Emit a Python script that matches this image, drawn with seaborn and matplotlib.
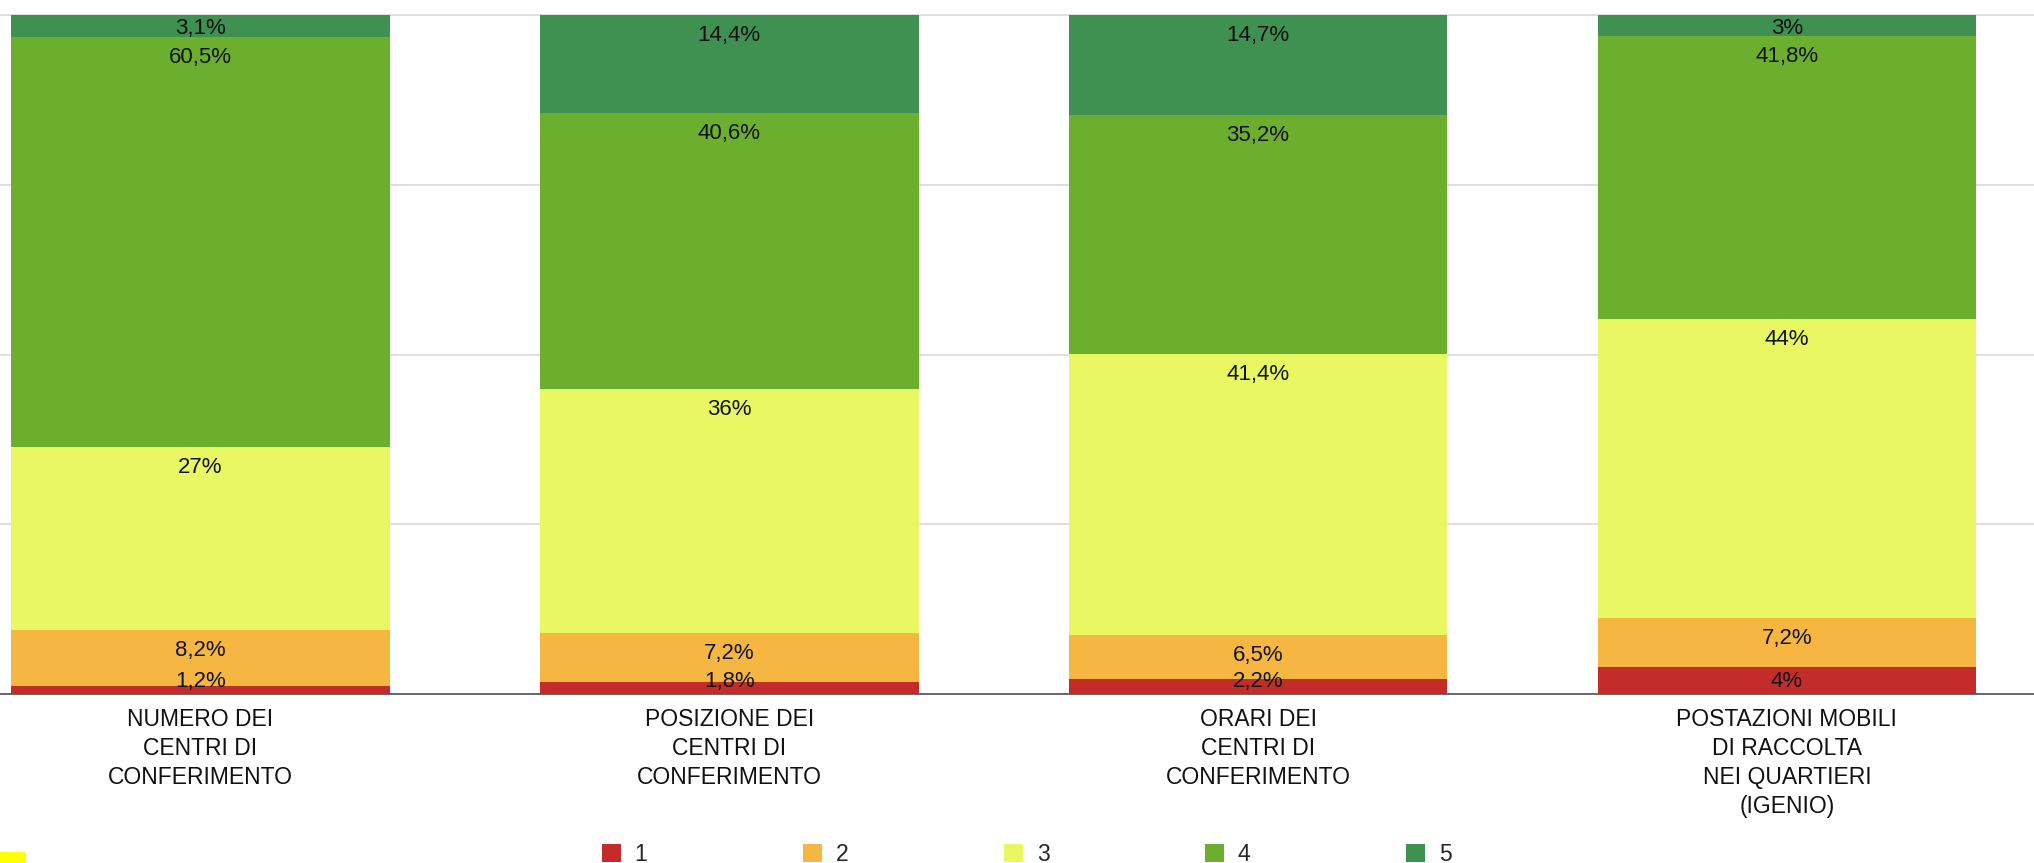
import matplotlib
matplotlib.use("Agg")
import matplotlib.pyplot as plt
import seaborn as sns
import numpy as np
from matplotlib.patches import Rectangle, Patch

# ---- data ----
categories = [
    "NUMERO DEI\nCENTRI DI\nCONFERIMENTO",
    "POSIZIONE DEI\nCENTRI DI\nCONFERIMENTO",
    "ORARI DEI\nCENTRI DI\nCONFERIMENTO",
    "POSTAZIONI MOBILI\nDI RACCOLTA\nNEI QUARTIERI\n(IGENIO)",
]
levels = ["1", "2", "3", "4", "5"]
score_1 = [1.2, 1.8, 2.2, 4.0]
score_2 = [8.2, 7.2, 6.5, 7.2]
score_3 = [27.0, 36.0, 41.4, 44.0]
score_4 = [60.5, 40.6, 35.2, 41.8]
score_5 = [3.1, 14.4, 14.7, 3.0]
series = [score_1, score_2, score_3, score_4, score_5]
colors = ["#C42C2C", "#F5B642", "#E9F763", "#6CAF2E", "#3F9151"]

W, H, DPI = 2034, 863, 100
sns.set_theme(style="white")
plt.rcParams["font.family"] = ["Liberation Sans", "DejaVu Sans"]

fig = plt.figure(figsize=(W / DPI, H / DPI), dpi=DPI)
ax_top_px, ax_bot_px = 15.5, 694.0
ax = fig.add_axes([0, 1 - ax_bot_px / H, 1, (ax_bot_px - ax_top_px) / H])

ppu = (ax_bot_px - ax_top_px) / 100.0  # pixels per data unit

keys = [str(i) for i in range(len(categories))]
bottoms = np.zeros(len(categories))
for lvl, vals, col in zip(levels, series, colors):
    vals = np.asarray(vals, dtype=float)
    sns.barplot(x=keys, y=vals, bottom=bottoms, color=col, saturation=1,
                width=0.716, errorbar=None, linewidth=0, ax=ax, zorder=2)
    for i, (b, v) in enumerate(zip(bottoms, vals)):
        top = b + v
        h_px = v * ppu
        off = min(18.0, h_px / 2.0) / ppu
        yc = max(top - off, 15.0 / ppu)
        txt = f"{v:g}".replace(".", ",") + "%"
        ax.text(i, yc, txt, ha="center", va="center_baseline", fontsize=16,
                color="#111111", zorder=5)
    bottoms = bottoms + vals

centers_px = 200.5
spacing_px = 528.8
ax.set_xlim(-centers_px / spacing_px, (W - centers_px) / spacing_px)
ax.set_ylim(0, 100)

ax.set_xticks(range(len(categories)))
ax.set_xticklabels(categories, fontsize=16.5, linespacing=1.34, color="#111111")
ax.tick_params(axis="x", length=0, pad=10)
ax.set_xlabel("")
ax.set_yticks([0, 25, 50, 75, 100])
ax.set_yticklabels([])
ax.tick_params(axis="y", length=0)
ax.grid(axis="y", color="#D6D6D6", linewidth=1.1)
ax.grid(axis="x", visible=False)
ax.set_axisbelow(True)
for l in ax.get_ygridlines():
    l.set_clip_on(False)
for s in ax.spines.values():
    s.set_visible(False)
ax.axhline(0, color="#555555", linewidth=1.2, zorder=4, clip_on=False)

handles = [Patch(facecolor=c, edgecolor="none", label=l) for c, l in zip(colors, levels)]
fig.legend(handles=handles, labels=levels, loc="upper left",
           bbox_to_anchor=(602 / W, 1 - 843 / H), ncol=5, frameon=False,
           fontsize=16.5, handlelength=0.82, handleheight=0.82, handletextpad=0.6,
           columnspacing=6.8, borderpad=0, borderaxespad=0)

fig.patches.append(Rectangle((0, 0), 26 / W, 11 / H, transform=fig.transFigure,
                             facecolor="#FFFF00", edgecolor="none"))

fig.savefig("out.png", dpi=DPI)
